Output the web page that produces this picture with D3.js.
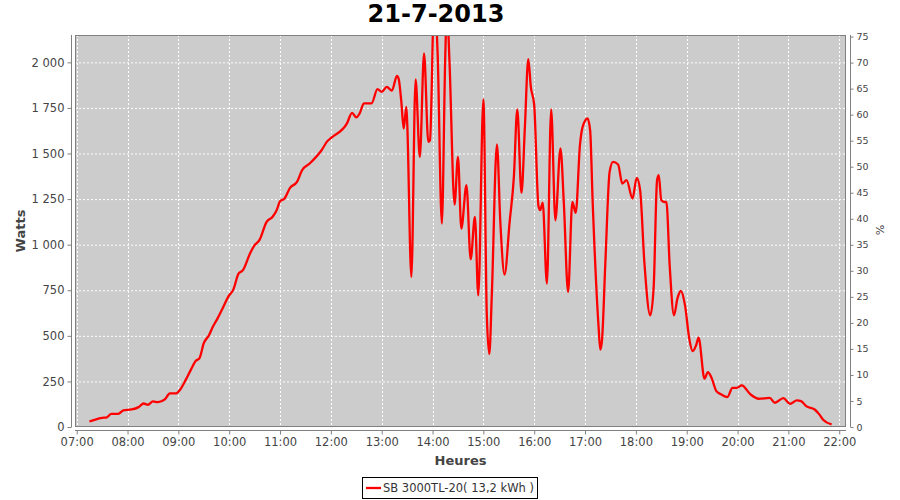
<!DOCTYPE html>
<html><head><meta charset="utf-8">
<script src="https://cdn.jsdelivr.net/npm/d3@7/dist/d3.min.js"></script>
<style>body{margin:0;background:#fff}svg{display:block}text{font-family:"DejaVu Sans",sans-serif}</style>
</head><body><svg id="c" width="900" height="500"></svg>
<script>
const title = "21-7-2013";
const seriesName = "SB 3000TL-20( 13,2 kWh )";
const times = ["07:15","07:22","07:30","07:35","07:41","07:49","07:55","08:05","08:13","08:19","08:24","08:30","08:36","08:44","08:50","08:57","09:02","09:09","09:15","09:20","09:25","09:30","09:36","09:41","09:45","09:52","09:59","10:05","10:11","10:16","10:25","10:30","10:36","10:44","10:51","10:56","11:00","11:05","11:12","11:20","11:26","11:35","11:49","11:56","12:01","12:19","12:25","12:30","12:34","12:39","12:48","12:55","13:00","13:06","13:12","13:18","13:20","13:23","13:26","13:29","13:30","13:35","13:40","13:45","13:50","13:55","13:57","14:02","14:06","14:11","14:15","14:17","14:20","14:26","14:30","14:34","14:40","14:45","14:50","14:54","15:00","15:04","15:07","15:10","15:16","15:20","15:25","15:31","15:36","15:40","15:45","15:49","15:53","15:56","16:00","16:05","16:07","16:10","16:15","16:20","16:25","16:31","16:35","16:40","16:45","16:49","16:54","16:57","17:03","17:06","17:09","17:16","17:18","17:20","17:24","17:29","17:33","17:39","17:44","17:49","17:56","18:01","18:05","18:10","18:17","18:21","18:25","18:27","18:30","18:34","18:36","18:40","18:45","18:49","18:53","18:58","19:03","19:07","19:11","19:14","19:21","19:25","19:29","19:35","19:41","19:48","19:54","19:59","20:05","20:15","20:25","20:38","20:44","20:54","21:02","21:10","21:15","21:21","21:31","21:36","21:41","21:51"];
const watts = [30,41,50,52,72,72,91,96,109,129,122,140,136,151,184,184,204,261,316,360,378,460,502,553,585,649,715,755,841,859,956,997,1028,1124,1152,1189,1238,1252,1313,1344,1408,1445,1518,1568,1588,1665,1723,1698,1720,1775,1775,1853,1838,1866,1845,1925,1910,1793,1637,1756,1680,823,1906,1481,2049,1564,1573,2350,2049,1116,2031,2300,2003,1220,1481,1088,1326,920,1152,722,1797,622,400,731,1550,1125,836,1125,1372,1742,1284,1646,2018,1866,1765,1212,1189,1231,786,1742,1134,1528,1225,740,1234,1174,1546,1643,1692,1628,1234,548,424,475,905,1399,1454,1440,1335,1354,1253,1366,1299,905,612,768,1354,1381,1244,1234,1234,877,612,704,746,667,484,416,447,490,265,301,273,197,178,164,215,215,228,180,155,160,133,158,127,146,142,114,96,72,40,14];
const wattTicks = [0,250,500,750,1000,1250,1500,1750,2000];
const pctTicks = [0,5,10,15,20,25,30,35,40,45,50,55,60,65,70,75];
const hourTicks = ["07:00","08:00","09:00","10:00","11:00","12:00","13:00","14:00","15:00","16:00","17:00","18:00","19:00","20:00","21:00","22:00"];

const toDate = s => { const [h,m] = s.split(":").map(Number); return new Date(2013,6,21,h,m); };
const data = times.map((t,i)=>({t:toDate(t), v:watts[i]}));

const L=75, R=846, T=35, B=427;
const svg = d3.select("#c");
const x = d3.scaleTime().domain([new Date(2013,6,21,6,58), new Date(2013,6,21,22,8)]).range([L,R]);
const y = d3.scaleLinear().domain([0,2150]).range([B,T]);
const y2 = d3.scaleLinear().domain([0,75.3]).range([B,T]);
const loc = d3.formatLocale({decimal:",", thousands:"\u00a0", grouping:[3], currency:["",""]});
const fmtW = loc.format(",d");

// plot background
svg.append("rect").attr("x",L).attr("y",T).attr("width",R-L).attr("height",B-T).attr("fill","#cccccc");
// grid
svg.append("g").selectAll("line").data(wattTicks).join("line")
  .attr("x1",L).attr("x2",R).attr("y1",d=>y(d)+0.5).attr("y2",d=>y(d)+0.5)
  .attr("stroke","#fff").attr("stroke-width",1).attr("stroke-dasharray","2,2");
svg.append("g").selectAll("line").data(hourTicks.map(toDate)).join("line")
  .attr("x1",d=>Math.round(x(d))+0.5).attr("x2",d=>Math.round(x(d))+0.5).attr("y1",T).attr("y2",B)
  .attr("stroke","#fff").attr("stroke-width",1).attr("stroke-dasharray","2,2");

// line
svg.append("clipPath").attr("id","clip").append("rect").attr("x",L).attr("y",T).attr("width",R-L).attr("height",B-T);
const line = d3.line().x(d=>x(d.t)).y(d=>y(d.v)).curve(d3.curveMonotoneX);
svg.append("path").datum(data).attr("clip-path","url(#clip)").attr("d",line)
  .attr("fill","none").attr("stroke","#ff0000").attr("stroke-width",2.3).attr("stroke-linejoin","round");

// plot outline
svg.append("rect").attr("x",L+0.5).attr("y",T+0.5).attr("width",R-L-1).attr("height",B-T-1)
  .attr("fill","none").attr("stroke","#808080").attr("stroke-width",1);

// axes
const axL = svg.append("g").attr("transform","translate(71.5,0)")
  .call(d3.axisLeft(y).tickValues(wattTicks).tickFormat(fmtW).tickSizeInner(4).tickSizeOuter(0).tickPadding(3));
axL.select(".domain").attr("d",`M0,${T}V${B}`);
const axR = svg.append("g").attr("transform","translate(850.5,0)")
  .call(d3.axisRight(y2).tickValues(pctTicks).tickFormat(d3.format("d")).tickSizeInner(3).tickSizeOuter(0).tickPadding(3));
axR.select(".domain").attr("d",`M0,${T}V${B}`);
const axB = svg.append("g").attr("transform","translate(0,430.5)")
  .call(d3.axisBottom(x).tickValues(hourTicks.map(toDate)).tickFormat(d3.timeFormat("%H:%M")).tickSizeInner(4).tickSizeOuter(0).tickPadding(3));
axB.select(".domain").attr("d",`M${L},0H${R}`);
[axL,axR,axB].forEach(a=>{
  a.selectAll(".domain").attr("stroke","#808080");
  a.selectAll(".tick line").attr("stroke","#808080");
  a.selectAll("text").attr("fill","#444").attr("font-family","DejaVu Sans").attr("font-size","11.5px");
});
axR.selectAll("text").attr("font-size","9.5px");

// titles
svg.append("text").attr("x",436).attr("y",22).attr("text-anchor","middle")
  .attr("font-size","24px").attr("font-weight","bold").attr("fill","#000").text(title);
svg.append("text").attr("x",460.5).attr("y",465).attr("text-anchor","middle")
  .attr("font-size","13px").attr("font-weight","bold").attr("fill","#444").text("Heures");
svg.append("text").attr("transform","translate(25,231) rotate(-90)").attr("text-anchor","middle")
  .attr("font-size","13px").attr("font-weight","bold").attr("fill","#444").text("Watts");
svg.append("text").attr("transform","translate(876,230) rotate(90)").attr("text-anchor","middle")
  .attr("font-size","11px").attr("fill","#444").text("%");

// legend
const lg = svg.append("g");
lg.append("rect").attr("x",362.5).attr("y",477.5).attr("width",175).attr("height",21)
  .attr("fill","#fff").attr("stroke","#000").attr("stroke-width",1);
lg.append("line").attr("x1",366).attr("x2",381).attr("y1",488).attr("y2",488).attr("stroke","#ff0000").attr("stroke-width",2.3);
lg.append("text").attr("x",383).attr("y",492).attr("font-size","11.5px").attr("fill","#333").text(seriesName);
</script></body></html>
